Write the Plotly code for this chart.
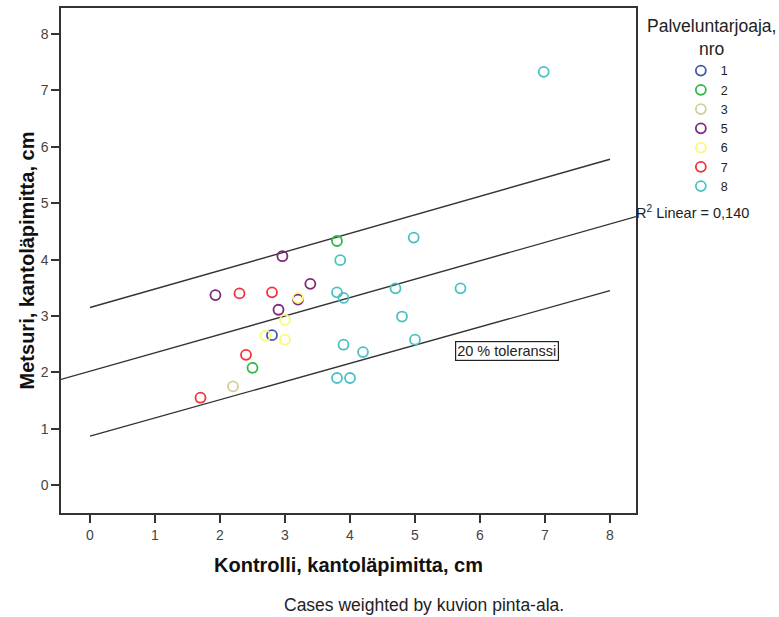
import plotly.graph_objects as go

# ---- data ----
groups = ["1", "2", "3", "5", "6", "7", "8"]
colors = ["#3E58AC", "#2EB848", "#D3CE97", "#7C287D", "#FBF873", "#EF3338", "#48C2C5"]

x_g1 = [2.80]
y_g1 = [2.66]
x_g2 = [3.80, 2.50]
y_g2 = [4.33, 2.08]
x_g3 = [2.20]
y_g3 = [1.75]
x_g5 = [2.96, 1.93, 3.39, 3.20, 2.90]
y_g5 = [4.06, 3.37, 3.57, 3.29, 3.11]
x_g6 = [3.20, 3.00, 2.70, 3.00]
y_g6 = [3.32, 2.93, 2.65, 2.58]
x_g7 = [2.30, 2.80, 2.40, 1.70]
y_g7 = [3.40, 3.42, 2.31, 1.55]
x_g8 = [4.98, 3.85, 3.80, 3.90, 4.70, 5.70, 4.80, 5.00, 3.90, 4.20, 3.80, 4.00, 6.98]
y_g8 = [4.39, 3.99, 3.42, 3.32, 3.49, 3.49, 2.99, 2.58, 2.49, 2.36, 1.90, 1.90, 7.33]

xs = [x_g1, x_g2, x_g3, x_g5, x_g6, x_g7, x_g8]
ys = [y_g1, y_g2, y_g3, y_g5, y_g6, y_g7, y_g8]

# linear fit (R2 = 0.140)
fit_intercept = 2.02
fit_slope = 0.3265

# 20 % tolerance lines (endpoints at x=0 and x=8)
tol_x = [0, 8]
tol_upper = [3.15, 5.78]
tol_lower = [0.87, 3.45]

x_range = [-0.446, 8.40]
y_range = [-0.495, 8.463]
ticks = [0, 1, 2, 3, 4, 5, 6, 7, 8]

FONT = "Liberation Sans, Arial, sans-serif"
LINE = "#333333"

fig = go.Figure()

fit_x = [x_range[0], x_range[1]]
fit_y = [fit_intercept + fit_slope * v for v in fit_x]
for lx, ly in [(fit_x, fit_y), (tol_x, tol_upper), (tol_x, tol_lower)]:
    fig.add_trace(go.Scatter(x=lx, y=ly, mode="lines",
                             line=dict(color=LINE, width=1.4),
                             showlegend=False, hoverinfo="skip"))

for g, c, gx, gy in zip(groups, colors, xs, ys):
    fig.add_trace(go.Scatter(
        x=gx, y=gy, mode="markers", name=g,
        marker=dict(symbol="circle-open", size=10, color=c,
                    line=dict(color=c, width=1.8)),
    ))

fig.add_annotation(x=x_range[1], y=fit_intercept + fit_slope * x_range[1],
                   xref="x", yref="y", xanchor="left", yanchor="middle",
                   text="R<sup>2</sup> Linear = 0,140", showarrow=False,
                   xshift=-2, yshift=5,
                   font=dict(family=FONT, size=14.5, color="#222222"))

fig.add_annotation(x=6.41, y=2.37, xref="x", yref="y",
                   text="20 % toleranssi", showarrow=False,
                   bordercolor="#222222", borderwidth=1.2, borderpad=1,
                   bgcolor="white",
                   font=dict(family=FONT, size=14.5, color="#222222"))

fig.add_annotation(x=1.131, y=0.941, xref="paper", yref="paper",
                   text="Palveluntarjoaja,<br>nro", showarrow=False,
                   xanchor="center", yanchor="middle", align="center",
                   font=dict(family=FONT, size=17.5, color="#222222"))

fig.add_annotation(x=0.631, y=-0.183, xref="paper", yref="paper",
                   text="Cases weighted by kuvion pinta-ala.", showarrow=False,
                   xanchor="center", yanchor="middle",
                   font=dict(family=FONT, size=17.5, color="#222222"))

axis_common = dict(showgrid=False, zeroline=False, showline=True, mirror=True,
                   linecolor=LINE, linewidth=1.5, ticks="outside", ticklen=8,
                   tickwidth=1.5, tickcolor=LINE,
                   tickfont=dict(family=FONT, size=14, color="#444444"),
                   tickvals=ticks, ticktext=[str(t) for t in ticks])

fig.update_layout(
    width=779, height=617,
    margin=dict(l=61, r=143, t=6, b=104),
    paper_bgcolor="white", plot_bgcolor="white",
    xaxis=dict(range=x_range, title=dict(text="<b>Kontrolli, kantoläpimitta, cm</b>",
               font=dict(family=FONT, size=20, color="#111111"), standoff=16),
               **axis_common),
    yaxis=dict(range=y_range, title=dict(text="<b>Metsuri, kantoläpimitta, cm</b>",
               font=dict(family=FONT, size=20, color="#111111"), standoff=1),
               **axis_common),
    legend=dict(x=1.078, y=0.905, xanchor="left", yanchor="top",
                font=dict(family=FONT, size=12.5, color="#222222"),
                itemwidth=30, tracegroupgap=0, bgcolor="rgba(0,0,0,0)"),
    showlegend=True,
)

fig.write_html("out.html")
